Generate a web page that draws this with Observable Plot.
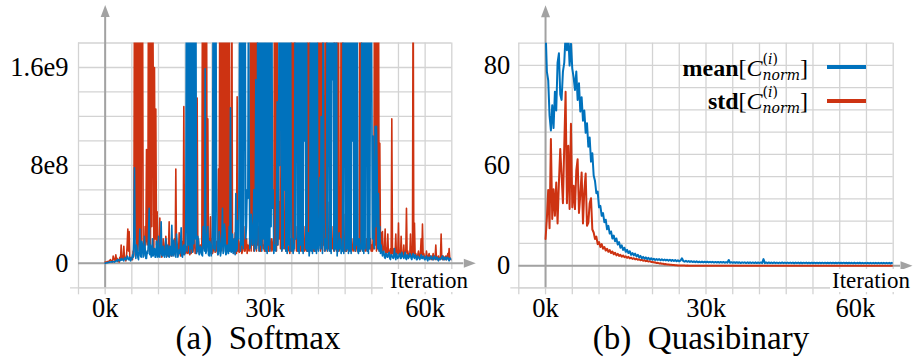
<!DOCTYPE html>
<html>
<head>
<meta charset="utf-8">
<script src="https://cdn.jsdelivr.net/npm/d3@7"></script>
<script src="https://cdn.jsdelivr.net/npm/@observablehq/plot@0.6"></script>
<style>
  html, body { margin: 0; padding: 0; background: #fff; }
  #fig { position: relative; width: 913px; height: 363px; overflow: hidden; background: #fff;
         font-family: "Liberation Serif", "DejaVu Serif", serif; color: #000; }
  .panel { position: absolute; top: 0; }
  .caption { position: absolute; top: 322.4px; font-size: 33px; line-height: 33px; white-space: pre; transform: translateX(-50%); }
  .iter { position: absolute; top: 268.7px; font-size: 23px; line-height: 23px; background: #fff; white-space: nowrap; }
  .leg { position: absolute; font-size: 24px; line-height: 24px; white-space: nowrap; }
  .ss { display: inline-block; vertical-align: -4.9px; font-family: "DejaVu Serif", serif; font-size: 14px; line-height: 16.4px; text-align: left; }
  .ss span.l { display: block; }
  .swatch { position: absolute; height: 4px; width: 39px; left: 827px; }
</style>
</head>
<body>
<div id="fig">
  <div class="panel" id="left" style="left:0;width:460px;"></div>
  <div class="panel" id="right" style="left:460px;width:453px;"></div>
  <div class="iter" id="iterL" style="left:383px;padding:0 6px 0 7px;"></div>
  <div class="iter" id="iterR" style="left:830px;padding:0 2px 0 2px;"></div>
  <div class="leg" id="legMean" style="right:105px;top:50.5px;"></div>
  <div class="leg" id="legStd" style="right:105px;top:83.5px;"></div>
  <div class="swatch" id="swMean" style="top:64.7px;"></div>
  <div class="swatch" id="swStd" style="top:99.3px;"></div>
  <div class="caption" id="capL" style="left:258px;"></div>
  <div class="caption" id="capR" style="left:701px;"></div>
</div>
<script>
// ---------------- data ----------------
const SOFT_STEP = 125;     // iterations between samples, panel (a)
const QUASI_STEP = 250;    // iterations between samples, panel (b)
const SOFT_UNIT = 1e8;     // softmax values are written in units of 1e8

// (a) Softmax — std[C_norm] (red); one row = 1k iterations, 0 .. 65k
const softmaxStd = [
  0.1,0.05,0.1,0.15,0.15,0.1,0.2,0.25,
  0.3,0.2,0.2,0.1,0.6,0.4,0.3,0.2,
  0.7,0.3,0.4,0.2,0.3,0.1,0.5,0.3,
  1.5,0.4,0.6,0.3,1.4,0.4,0.5,0.2,
  0.6,1.5,2.8,1.0,2.6,0.5,0.4,0.3,
  0.5,0.3,1.0,0.6,25,2.0,25,1.5,
  25,1.0,2.0,25,1.5,25,1.2,25,
  25,2.0,1.2,0.8,3.0,1.5,9.3,2.0,
  1.5,25,1.0,25,1.2,25,3.0,25,
  16.4,1.0,16.0,2.0,12.6,1.5,4.2,1.0,
  1.0,0.6,3.7,0.8,1.2,0.5,0.8,2.0,
  1.4,0.7,1.0,2.2,1.4,0.6,0.8,1.2,
  3.4,0.8,1.2,0.6,0.6,1.5,1.0,0.7,
  2.0,0.8,7.7,1.0,1.5,0.6,0.8,2.5,
  1.0,0.6,0.8,1.8,1.2,0.7,12.8,1.0,
  2.5,0.8,1.0,1.4,0.8,2.0,1.0,0.7,
  2.6,0.8,1.5,0.9,1.0,2.2,2.0,0.8,
  1.2,0.9,13.5,1.0,2.0,0.8,1.0,1.5,
  1.0,1.5,25,1.2,25,1.5,25,1.0,
  25,1.8,11.8,1.0,2.0,0.8,3.8,1.2,
  2.0,0.8,1.0,1.5,1.5,0.9,1.0,1.8,
  1.2,0.7,7.7,1.0,25,1.2,25,1.5,
  25,1.0,25,1.5,25,1.0,25,1.2,
  25,1.5,25,1.0,8.0,2.0,25,1.0,
  2.0,0.8,1.0,2.5,1.5,0.8,13.6,1.0,
  2.0,0.9,1.0,1.8,1.5,0.8,1.0,1.6,
  3.0,1.0,1.0,2.0,2.0,0.8,1.5,1.2,
  1.0,2.0,25,1.0,25,1.5,25,1.0,
  25,1.2,25,1.0,25,1.5,3.0,1.0,
  2.0,1.0,1.0,2.0,3.0,1.2,1.5,1.0,
  2.0,1.0,1.0,1.5,4.0,1.0,1.0,2.0,
  1.5,1.0,2.0,1.2,1.0,2.0,25,1.5,
  25,1.0,25,1.5,12.2,2.0,5.0,1.2,
  12.2,1.0,3.0,1.5,8.0,1.2,3.0,1.0,
  2.0,1.0,1.0,1.2,1.5,0.8,2.0,1.0,
  25,1.5,25,1.0,25,2.0,3.0,1.0,
  2.0,1.0,1.0,1.5,3.0,1.0,2.0,1.2,
  1.0,1.5,2.0,1.0,3.0,1.2,1.0,1.5,
  25,1.0,25,1.5,8.0,1.2,2.0,1.0,
  2.0,1.0,1.0,1.5,2.0,1.0,3.0,1.2,
  25,1.5,25,1.0,25,1.2,25,1.5,
  3.0,1.0,25,1.5,25,1.0,5.0,1.2,
  2.0,1.0,1.0,1.5,3.0,1.2,2.0,1.0,
  25,1.2,2.0,1.0,25,1.5,25,1.0,
  3.0,1.5,25,1.0,25,1.2,4.0,1.0,
  2.0,1.0,1.0,1.5,3.0,1.0,2.0,1.2,
  4.5,1.0,2.0,1.2,1.0,1.5,2.0,1.0,
  1.0,1.5,2.0,1.0,1.0,1.2,25,1.0,
  25,1.2,3.0,1.0,2.0,1.5,1.0,1.2,
  2.0,1.0,1.0,1.5,3.0,1.2,2.0,1.0,
  1.5,1.0,2.0,1.2,25,1.5,25,1.0,
  25,1.2,25,1.0,9.8,1.5,2.5,1.0,
  2.6,0.8,1.0,1.2,2.8,0.6,1.2,0.9,
  2.4,0.7,0.8,1.0,1.2,0.6,11.8,0.8,
  1.2,0.6,0.6,1.0,2.4,0.5,1.0,0.8,
  3.3,0.7,1.0,0.6,2.2,0.8,0.8,0.6,
  1.5,0.6,0.8,1.0,4.5,0.7,1.0,0.5,
  0.8,0.6,2.4,0.7,0.6,0.9,25,0.8,
  3.3,0.6,0.8,0.5,0.4,0.7,1.0,0.5,
  0.6,0.8,2.0,0.6,3.2,0.7,0.8,0.5,
  0.5,0.4,1.0,0.5,0.4,0.6,0.8,0.4,
  0.6,0.4,0.3,0.5,0.8,0.3,0.4,0.5,
  1.5,0.4,0.3,0.5,0.6,0.3,0.4,0.5,
  2.4,0.4,0.3,0.6,0.5,0.3,0.4,0.6,
  0.3,0.5,0.8,0.4,1.2,0.4,0.4,0.3,
  0.3
];
// (a) Softmax — mean[C_norm] (blue)
const softmaxMean = [
  0,0.03,0.05,0.04,0.05,0.08,0.1,0.08,
  0.1,0.12,0.1,0.15,0.15,0.12,0.1,0.15,
  0.2,0.25,0.15,0.3,0.3,0.2,0.2,0.35,
  0.25,0.4,0.3,0.25,0.2,0.45,0.4,0.3,
  0.3,0.6,0.5,0.3,0.3,0.5,0.2,0.4,
  0.3,0.7,0.5,2.0,7.8,1.0,0.4,1.5,
  1.0,0.5,0.3,1.2,2.8,0.6,0.5,1.8,
  1.5,0.5,0.6,2.2,1.2,0.4,0.4,1.0,
  0.8,2.0,4.5,0.7,1.5,0.5,0.6,2.0,
  0.6,0.9,1.2,0.5,0.5,1.8,0.8,0.5,
  2.2,0.6,0.5,1.2,3.4,0.7,0.6,1.4,
  0.8,0.5,1.0,2.0,0.5,0.9,1.5,0.6,
  0.5,1.4,1.0,0.6,3.1,0.8,0.6,1.9,
  1.2,0.6,0.5,2.4,1.6,0.5,0.8,1.1,
  0.8,1.6,2.9,0.6,0.5,1.3,1.5,0.7,
  1.0,4.0,25,1.0,25,1.5,25,0.8,
  25,1.2,25,0.9,25,1.6,25,2.0,
  25,0.8,1.0,2.2,1.8,0.7,0.8,1.4,
  1.2,0.7,0.6,3.0,2.5,1.0,15.9,0.8,
  1.0,2.0,3.0,0.7,0.6,1.8,1.5,0.6,
  1.0,3.0,25,1.2,25,1.0,25,7.7,
  1.5,0.7,0.8,2.6,2.0,0.6,1.0,1.9,
  4.5,0.8,1.0,3.2,2.5,0.7,0.8,1.5,
  1.2,0.8,3.0,1.0,12.7,0.9,1.0,2.4,
  0.8,1.5,2.0,0.7,5.7,1.0,1.2,3.5,
  2.0,8.0,25,1.0,25,1.5,25,1.2,
  4.0,25,25,2.0,3.0,6.0,5.3,25,
  8.6,1.2,1.5,4.0,3.0,1.5,2.0,6.0,
  1.0,3.0,15.0,1.2,2.0,25,6.0,1.0,
  25,1.5,25,1.0,25,2.0,25,1.2,
  25,1.0,25,0.8,25,1.5,25,1.0,
  25,3.0,25,4.5,6.0,0.8,1.5,1.2,
  1.0,4.0,13.2,1.5,3.0,25,8.0,25,
  25,1.0,25,1.2,25,6.0,25,1.0,
  25,0.8,25,1.5,25,1.0,25,6.0,
  1.0,2.0,0.8,1.5,1.2,25,2.0,25,
  25,1.0,25,0.8,25,1.5,25,1.0,
  25,0.8,25,10,25,1.2,25,1.0,
  1.0,2.5,0.6,1.2,25,1.0,25,0.8,
  25,1.2,25,1.0,25,0.8,25,1.5,
  1.0,2.0,7.0,1.2,12.0,3.0,0.8,25,
  5.0,1.5,1.0,2.0,1.2,25,1.0,25,
  25,1.0,25,0.8,25,15,25,1.2,
  1.0,25,1.2,25,0.6,1.5,1.0,2.5,
  1.2,2.0,0.8,1.2,1.0,25,0.8,25,
  25,1.0,25,1.2,25,0.8,25,1.0,
  25,0.8,25,10,25,1.2,25,1.0,
  25,1.5,25,1.0,0.8,2.0,1.0,1.5,
  1.2,25,1.0,25,0.8,25,1.2,25,
  25,1.0,25,0.8,25,1.2,20,25,
  14,2.0,10.4,1.5,1.2,11.2,3.0,11.2,
  7.7,1.2,5.7,1.0,3.0,0.8,1.5,1.0,
  0.6,0.9,1.0,0.5,0.4,0.8,0.8,0.5,
  0.5,0.8,0.9,0.4,0.3,0.7,0.7,0.5,
  0.4,0.6,1.2,0.5,0.3,0.8,0.6,0.4,
  0.5,0.7,0.8,0.4,0.4,0.9,0.7,0.5,
  0.4,0.6,0.9,0.4,0.3,0.7,0.6,0.4,
  0.5,0.8,0.7,0.4,0.3,0.6,0.8,0.5,
  0.4,0.7,0.6,0.3,0.3,0.6,0.5,0.4,
  0.3,0.5,0.7,0.4,0.4,0.6,0.5,0.3,
  0.3,0.5,0.6,0.3,0.2,0.5,0.5,0.3,
  0.4,0.6,0.5,0.3,0.3,0.5,0.6,0.4,
  0.3,0.5,0.5,0.3,0.2,0.4,0.4,0.3,
  0.4,0.5,0.6,0.3,0.3,0.5,0.5,0.3,
  0.3,0.5,0.5,0.3,0.2,0.4,0.4,0.3,
  0.3
];
// (b) Quasibinary — mean[C_norm] (blue); one row = 5k iterations
const quasiMean = [
  86,79,77.5,71, 68,73,68.5,75.5, 72,80.5,82,75, 74,79,80.5,85, 82.5,85,80,83.5,
  79.5,78,75.8,79, 74,77,71.8,74.5, 70,72,67.5,69.5, 64.5,66.5,61,63, 57.5,56,52.5,53,
  48,48.5,45,46, 42.5,43.5,39.5,41, 37.5,38.5,35,36.5, 33.5,35,31.5,33, 29.5,31,28,29.5,
  26.5,28,25.5,27, 24,25.5,23.5,25, 22.5,24,21.5,23, 20.5,22,20,21.5, 19.5,21,19,20.5,
  18.8,20,18.5,19.5, 18.5,19.5,18,19.2, 18,19,17.8,18.8, 17.5,18.8,17.2,18.5, 17,18.5,16.8,18,
  16.5,17.8,20.5,17, 16,17.2,15.8,17, 15.5,16.8,15.4,16.5, 15.2,16.5,15,16.2, 15,16.2,14.8,16,
  14.8,16,14.6,15.8, 14.6,15.8,14.4,15.6, 14.5,15.6,14.2,15.5, 14.3,15.5,14.1,15.3, 14.2,18.5,14,15.2,
  14,15,13.8,15, 13.8,15,13.6,14.8, 13.7,14.9,13.5,14.8, 13.6,14.8,13.5,14.7, 13.5,14.8,13.4,14.6,
  13.5,14.7,13.4,19.5, 13.4,14.6,13.3,14.6, 13.4,14.5,13.3,14.6, 13.3,14.5,13.2,14.5, 13.3,14.6,13.2,14.4,
  13.2,14.5,13.3,14.4, 13.2,14.4,13.1,14.5, 13.2,14.4,13.1,14.4, 13.1,14.3,13.2,14.4, 13.1,14.3,13,14.3,
  13.1,14.3,13,14.2, 13,14.3,13,14.2, 13,14.2,12.9,14.3, 13,14.2,12.9,14.2, 12.9,14.1,13,14.2,
  12.9,14.1,12.9,14.2, 12.9,14.1,12.8,14.1, 12.9,14,12.8,14.1, 12.8,14,12.9,14.1, 12.8,14,12.8,14,
  12.8,14,12.7,14, 12.8,13.9,12.7,14, 12.7,13.9,12.8,14, 12.7,13.9,12.7,13.9, 12.7,13.9,12.6,13.9,
  13.2
];
// (b) Quasibinary — std[C_norm] (red)
const quasiStd = [
  34.7,44,53.5,40, 66.2,43.8,53.7,45, 55.6,42,55.6,64, 57.5,49.4,64.7,75.5, 49.4,64.7,47.4,69.4,
  48,54.7,47.4,58.8, 61.6,46,52,58.3, 42,53.2,58,41, 42.2,49.4,51,39.4, 38,34.7,36,31.8,
  33,30,31.8,28.8, 30,27.5,28.8,26.5, 27.8,25.5,26.8,24.5, 25.8,23.5,24.8,23, 24,22.2,23.4,21.6,
  22.6,21,22,20.4, 21.2,19.8,20.6,19.2, 20,18.6,19.4,18, 18.8,17.4,18.2,16.8, 17.4,16.2,16.8,15.4,
  15.8,14.6,15,13.6, 14,12.8,13,11.8, 12,10.8,11,9.8, 10,8.8,9,7.8, 8,6.8,7,6,
  6.2,5,5.8,4.5, 5,3.8,4.6,3.5, 4.2,3.2,3.8,3, 3.6,2.8,3.4,2.6, 3.2,2.5,3,2.4,
  3,2.4,2.8,2.2, 2.6,2.2,2.6,2, 2.5,2,2.4,1.9, 2.3,1.8,2.2,1.8, 2.2,1.7,2,1.6,
  2,1.6,1.9,1.5, 1.9,1.5,1.8,1.4, 1.8,1.4,1.7,1.4, 1.7,1.3,1.6,1.3, 1.6,1.2,1.5,1.2,
  1.5,1.2,1.4,1.1, 1.4,1.1,1.4,1.1, 1.3,1,1.3,1, 1.3,1,1.2,1, 1.2,0.9,1.2,0.9,
  1.2,0.9,1.1,0.9, 1.1,0.8,1.1,0.8, 1.1,0.8,1,0.8, 1,0.8,1,0.7, 1,0.7,0.9,0.7,
  0.9,0.7,0.9,0.7, 0.9,0.7,0.8,0.6, 0.8,0.6,0.8,0.6, 0.8,0.6,0.8,0.6, 0.8,0.6,0.7,0.6,
  0.7,0.6,0.7,0.5, 0.7,0.5,0.7,0.5, 0.7,0.5,0.6,0.5, 0.6,0.5,0.6,0.5, 0.6,0.5,0.6,0.4,
  0.6,0.4,0.6,0.4, 0.5,0.4,0.5,0.4, 0.5,0.4,0.5,0.4, 0.5,0.4,0.5,0.4, 0.5,0.4,0.5,0.4,
  0.5
];

const xTicks = [0, 30000, 60000];
const xTickLabels = ["0k", "30k", "60k"];
const softYTicks = [0, 8e8, 1.6e9];
const softYTickLabels = ["0", "8e8", "1.6e9"];
const quasiYTicks = [0, 60, 80];
const quasiYTickLabels = ["0", "60", "80"];
const seriesNames = ["mean", "std"];
const xLabel = "Iteration";
const captions = ["(a)  Softmax", "(b)  Quasibinary"];

// ---------------- styling ----------------
const BLUE = "#0072bd";
const RED = "#cd3312";
const GRID = "#d3d3d3";
const AXIS = "#a2a2a2";
const FONT = "'Liberation Serif', 'DejaVu Serif', serif";
const TICK_FONT = 26.5;

const toRows = (arr, step, unit = 1) => arr.map((v, i) => ({it: i * step, v: v * unit}));
const xFmt = d => xTickLabels[xTicks.indexOf(d)];
const arrowHead = {draw(ctx) { ctx.moveTo(0, -12); ctx.lineTo(4.5, 0); ctx.lineTo(-4.5, 0); ctx.closePath(); }};
const X_DOMAIN = [-5000, 65000];
const xGrid = d3.range(-5000, 65001, 5000);
const svgStyle = {background: "transparent", overflow: "visible", color: "#000"};
const axisText = {fontSize: TICK_FONT, fontFamily: FONT, label: null, tickSize: 0};

// ---------------- (a) Softmax ----------------
const softDomain = [-2e8, 1.8e9];
const softGrid = d3.range(-2e8, 1.8e9 + 1, 2e8);
const left = Plot.plot({
  width: 460, height: 325,
  marginLeft: 78, marginRight: 8.7, marginTop: 42.5, marginBottom: 37.7,
  style: svgStyle,
  x: {domain: X_DOMAIN, label: null},
  y: {domain: softDomain, label: null},
  marks: [
    Plot.gridX(xGrid, {stroke: GRID, strokeOpacity: 1, strokeWidth: 1.3, insetBottom: -7}),
    Plot.gridY(softGrid, {stroke: GRID, strokeOpacity: 1, strokeWidth: 1.3}),
    Plot.gridY([softDomain[0]], {stroke: GRID, strokeOpacity: 1, strokeWidth: 1.3, insetLeft: -8}),
    Plot.axisY(softYTicks, {...axisText, anchor: "left", tickPadding: 10,
      tickFormat: d => softYTickLabels[softYTicks.indexOf(d)]}),
    Plot.axisX(xTicks, {...axisText, anchor: "bottom", tickPadding: 10, tickFormat: xFmt}),
    Plot.ruleY([0], {stroke: AXIS, strokeWidth: 2, insetRight: -12}),
    Plot.ruleX([0], {stroke: AXIS, strokeWidth: 2, insetTop: -26}),
    Plot.dot([0], {x: d => d, frameAnchor: "top", dy: -26, symbol: arrowHead, r: 5, fill: AXIS, stroke: "none"}),
    Plot.dot([0], {y: d => d, frameAnchor: "right", dx: 12, rotate: 90, symbol: arrowHead, r: 5, fill: AXIS, stroke: "none"}),
    Plot.line(toRows(softmaxStd, SOFT_STEP, SOFT_UNIT), {x: "it", y: "v", stroke: RED, strokeWidth: 1.6, clip: true}),
    Plot.line(toRows(softmaxMean, SOFT_STEP, SOFT_UNIT), {x: "it", y: "v", stroke: BLUE, strokeWidth: 1.6, clip: true})
  ]
});
document.getElementById("left").append(left);

// ---------------- (b) Quasibinary ----------------
const QEXP = 2.41;
const quasiDomain = [-32, 83.6];
const qGridScale = d3.scalePow().exponent(QEXP).domain(quasiDomain).range([0, 11]);
const quasiGrid = d3.range(12).map(k => qGridScale.invert(k));
const right = Plot.plot({
  width: 453, height: 325,
  marginLeft: 58.3, marginRight: 20.3, marginTop: 42.7, marginBottom: 37.7,
  style: svgStyle,
  x: {domain: X_DOMAIN, label: null},
  y: {type: "pow", exponent: QEXP, domain: quasiDomain, label: null},
  marks: [
    Plot.gridX(xGrid, {stroke: GRID, strokeOpacity: 1, strokeWidth: 1.3, insetBottom: -7}),
    Plot.gridY(quasiGrid, {stroke: GRID, strokeOpacity: 1, strokeWidth: 1.3}),
    Plot.gridY([quasiDomain[0]], {stroke: GRID, strokeOpacity: 1, strokeWidth: 1.3, insetLeft: -8}),
    Plot.axisY(quasiYTicks, {...axisText, anchor: "left", tickPadding: 8.5,
      tickFormat: d => quasiYTickLabels[quasiYTicks.indexOf(d)]}),
    Plot.axisX(xTicks.slice(0, 2), {...axisText, anchor: "bottom", tickPadding: 10, tickFormat: xFmt}),
    Plot.axisX(xTicks.slice(2), {...axisText, anchor: "bottom", tickPadding: 10, tickFormat: xFmt, dx: -11}),
    Plot.ruleY([0], {stroke: AXIS, strokeWidth: 2, insetRight: -7.3}),
    Plot.ruleX([0], {stroke: AXIS, strokeWidth: 2, insetTop: -26}),
    Plot.dot([0], {x: d => d, frameAnchor: "top", dy: -26, symbol: arrowHead, r: 5, fill: AXIS, stroke: "none"}),
    Plot.dot([0], {y: d => d, frameAnchor: "right", dx: 7.3, rotate: 90, symbol: arrowHead, r: 5, fill: AXIS, stroke: "none"}),
    Plot.line(toRows(quasiStd, QUASI_STEP), {x: "it", y: "v", stroke: RED, strokeWidth: 2, clip: true}),
    Plot.line(toRows(quasiMean, QUASI_STEP), {x: "it", y: "v", stroke: BLUE, strokeWidth: 2, clip: true})
  ]
});
document.getElementById("right").append(right);

// serif face on every SVG text (tick labels)
for (const svg of [left, right]) {
  svg.setAttribute("font-family", FONT);
  for (const t of svg.querySelectorAll("text, tspan")) {
    t.setAttribute("font-family", FONT);
    t.style.setProperty("font-variant", "normal");
  }
}

// ---------------- texts ----------------
document.getElementById("iterL").textContent = xLabel;
document.getElementById("iterR").textContent = xLabel;
document.getElementById("capL").textContent = captions[0];
document.getElementById("capR").textContent = captions[1];
const legendHTML = name => `<b>${name}</b>[<i>C</i><span class="ss"><span class="l">(<i>i</i>)</span><span class="l"><i>norm</i></span></span>]`;
document.getElementById("legMean").innerHTML = legendHTML(seriesNames[0]);
document.getElementById("legStd").innerHTML = legendHTML(seriesNames[1]);
document.getElementById("swMean").style.background = BLUE;
document.getElementById("swStd").style.background = RED;
</script>
</body>
</html>
